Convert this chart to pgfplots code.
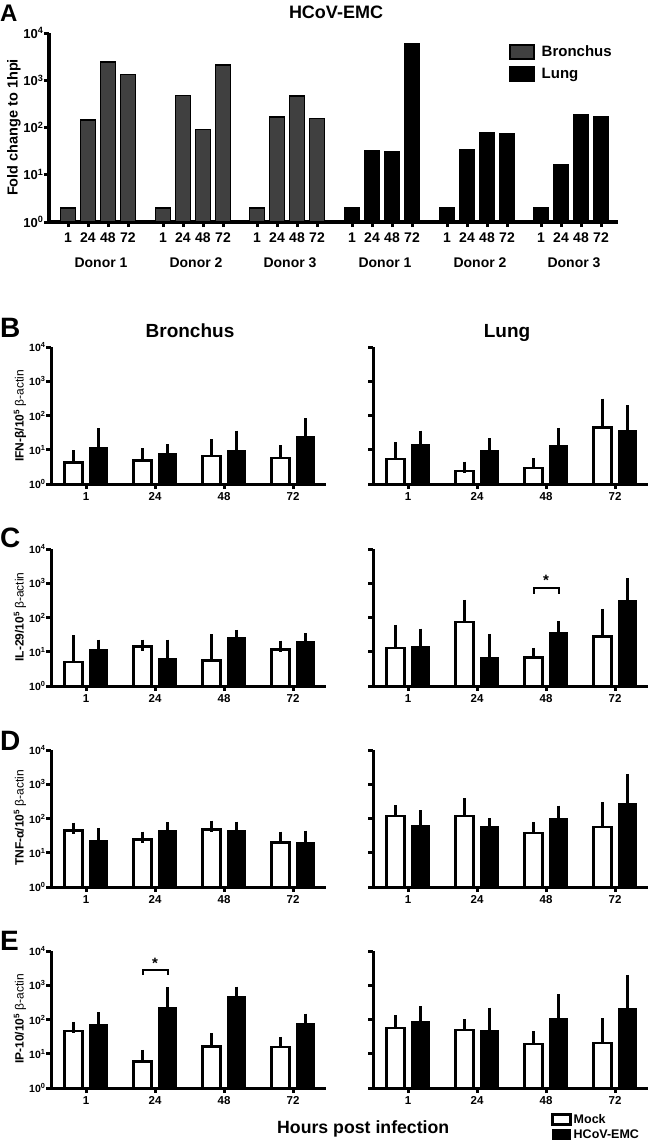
\documentclass[border=0pt]{standalone}
\usepackage{fontspec}
\setmainfont{Liberation Sans}
\usepackage{pgfplots}
\usepackage{pgfplotstable}
\pgfplotsset{compat=1.18}

\newcommand{\tenp}[1]{10\textsuperscript{#1}}
\newcommand{\bfs}[1]{\bfseries\fontsize{#1}{#1}\selectfont}

% panel A: fold change to 1 hpi, x = bar position
\pgfplotstableread{
x y
68 2
88 144
108 2440
128 1320
163 2
183 480
203 90
223 2080
257 2
277 166
297 460
317 155
}\tabAB
\pgfplotstableread{
x y
352 2
372 33
392 31
412 6000
447 2
467 34
487 76
507 72
541 2
561 16.4
581 190
601 166
}\tabAL

% panels B-E: m = mock, h = HCoV-EMC, e = upper SEM
\pgfplotstableread{
x m me h he
35 4.2 2.4 12 17
104 4.9 2.7 8 2
173 6.6 7.4 9.5 15.5
242 5.7 3.5 24 34
}\tabBb
\pgfplotstableread{
x m me h he
35 5.4 6.0 14 11
104 2.4 0.7 9.3 5.7
173 2.9 1.0 13.7 16.3
242 45 170 37 100
}\tabBl
\pgfplotstableread{
x m me h he
35 5.1 15.9 11.7 3.9
104 14.3 1.3 6.4 9.2
173 5.5 16.9 25.6 4.4
242 11.7 2.9 19.5 4.5
}\tabCb
\pgfplotstableread{
x m me h he
35 12.9 29 14 19
104 73 152 6.9 16
173 6.9 2.1 36 17
242 28 96 308 667
}\tabCl
\pgfplotstableread{
x m me h he
35 45 7 23 14
104 24 4.6 45 8
173 48 12 45 11
242 20 8.6 20 10.6
}\tabDb
\pgfplotstableread{
x m me h he
35 117 50 61 61
104 117 153 60 10
173 38 15 102 62
242 57 148 270 1120
}\tabDl
\pgfplotstableread{
x m me h he
35 46 13 70 44
104 6 2.9 220 390
173 16.4 10.6 457 178
242 15.7 5.7 77 25
}\tabEb
\pgfplotstableread{
x m me h he
35 57 36 86 81
104 49 22 47 106
173 19 12 107 266
242 20.5 54.5 209 1191
}\tabEl

% axis for panels B-E; #1 = bottom-left corner, #2 = extra options
\newcommand{\cytaxis}[2]{\begin{axis}[scale only axis, clip=false,
  axis x line*=bottom, axis y line*=left,
  axis line style={-, line width=3pt},
  tick align=outside, major tick length=5pt,
  tick style={line width=3pt, black},
  ymode=log, ymin=1, ymax=10000,
  ytick={1,10,100,1000,10000}, yminorticks=false,
  width=275pt, height=137pt, xmin=0, xmax=275,
  xtick={35,104,173,242}, xticklabels={1,24,48,72},
  xticklabel style={font=\bfs{11.5}},
  yticklabel style={font=\bfs{10.5}, xshift=3pt},
  ybar, bar width=18pt,
  at={#1}, anchor=south west, #2]}
% mock and HCoV-EMC bars of one table
\newcommand{\cytbars}[1]{%
  \addplot[fill=white, draw=black, line width=2.5pt, bar shift=-12.5pt,
    error bars/.cd, y dir=plus, y explicit,
    error bar style={line width=2.5pt, black},
    error mark options={line width=2.5pt, black, mark size=5.5pt}]
    table[x=x,y=m,y error=me]{#1};
  \addplot[fill=black, draw=black, line width=1pt, bar shift=12.5pt,
    error bars/.cd, y dir=plus, y explicit,
    error bar style={line width=2.5pt, black},
    error mark options={line width=2.5pt, black, mark size=5.5pt}]
    table[x=x,y=h,y error=he]{#1};}

\begin{document}
\begin{tikzpicture}
\useasboundingbox (0pt,0pt) rectangle (650pt,-1143pt);

% ---------------- A ----------------
\begin{axis}[scale only axis, clip=false,
  axis x line*=bottom, axis y line*=left,
  axis line style={-, line width=3.5pt},
  tick align=outside, major tick length=5pt,
  tick style={line width=3pt, black},
  ymode=log, ymin=1, ymax=10000,
  ytick={1,10,100,1000,10000}, yminorticks=false,
  at={(49pt,-222pt)}, anchor=south west,
  width=569pt, height=189pt, xmin=49, xmax=618,
  xtick={68,88,108,128,163,183,203,223,257,277,297,317,352,372,392,412,447,467,487,507,541,561,581,601},
  xticklabels={1,24,48,72,1,24,48,72,1,24,48,72,1,24,48,72,1,24,48,72,1,24,48,72},
  xticklabel style={font=\bfs{14}, yshift=-2pt},
  yticklabels={\tenp{0},\tenp{1},\tenp{2},\tenp{3},\tenp{4}},
  yticklabel style={font=\bfs{13}, xshift=3pt},
  ybar, bar width=15pt,
  area legend,
  legend image post style={xscale=1.41, yscale=2.45},
  legend style={at={(axis description cs:0.803,0.955)}, anchor=north west,
    draw=none, fill=none, font=\bfs{15}, row sep=6pt,
    /tikz/every odd column/.append style={column sep=5pt}},
  legend cell align=left,
]
\addplot[fill=black!75, draw=black, line width=1.5pt, bar shift=0pt]
  table[x=x,y=y]{\tabAB};
\addplot[fill=black, draw=black, line width=1.5pt, bar shift=0pt]
  table[x=x,y=y]{\tabAL};
\legend{Bronchus,Lung}
\end{axis}
\node[anchor=base west, inner sep=0pt, font=\bfs{24}] at (0pt,-21pt) {A};
\node[anchor=base, inner sep=0pt, font=\bfs{18}] at (336pt,-18.5pt) {HCoV-EMC};
\node[rotate=90, inner sep=0pt, font=\bfs{14.5}] at (14pt,-127.5pt) {Fold change to 1hpi};
\foreach \cx/\lab in {101/Donor 1,196/Donor 2,290/Donor 3,385/Donor 1,480/Donor 2,574/Donor 3}
  \node[anchor=base, inner sep=0pt, font=\bfs{14}] at (\cx pt,-267pt) {\lab};

% ---------------- B ----------------
\cytaxis{(51pt,-484pt)}{yticklabels={\tenp{0},\tenp{1},\tenp{2},\tenp{3},\tenp{4}}}
\cytbars{\tabBb}
\end{axis}
\cytaxis{(373pt,-484pt)}{yticklabels={\mbox{},\mbox{},\mbox{},\mbox{},\mbox{}}}
\cytbars{\tabBl}
\end{axis}
\node[anchor=base west, inner sep=0pt, font=\bfs{28}] at (0pt,-337pt) {B};
\node[anchor=base, inner sep=0pt, font=\bfs{19}] at (190pt,-337pt) {Bronchus};
\node[anchor=base, inner sep=0pt, font=\bfs{19}] at (507pt,-337pt) {Lung};
\node[rotate=90, inner sep=0pt, font=\bfs{12}] at (20pt,-416pt) {IFN-β/\tenp{5} {\mdseries β-actin}};

% ---------------- C ----------------
\cytaxis{(51pt,-686pt)}{yticklabels={\tenp{0},\tenp{1},\tenp{2},\tenp{3},\tenp{4}}}
\cytbars{\tabCb}
\end{axis}
\cytaxis{(373pt,-686pt)}{yticklabels={\mbox{},\mbox{},\mbox{},\mbox{},\mbox{}}}
\cytbars{\tabCl}
\draw[line width=2pt] ([yshift=-6pt]axis cs:160.5,740) -- (axis cs:160.5,740)
  -- (axis cs:185.5,740) -- ([yshift=-6pt]axis cs:185.5,740);
\node[anchor=base, inner sep=0pt, font=\bfs{15}] at ([yshift=2pt]axis cs:173,740) {*};
\end{axis}
\node[anchor=base west, inner sep=0pt, font=\bfs{28}] at (0pt,-547pt) {C};
\node[rotate=90, inner sep=0pt, font=\bfs{12}] at (20pt,-617pt) {IL-29/\tenp{5} {\mdseries β-actin}};

% ---------------- D ----------------
\cytaxis{(51pt,-887pt)}{yticklabels={\tenp{0},\tenp{1},\tenp{2},\tenp{3},\tenp{4}}}
\cytbars{\tabDb}
\end{axis}
\cytaxis{(373pt,-887pt)}{yticklabels={\mbox{},\mbox{},\mbox{},\mbox{},\mbox{}}}
\cytbars{\tabDl}
\end{axis}
\node[anchor=base west, inner sep=0pt, font=\bfs{28}] at (0pt,-750pt) {D};
\node[rotate=90, inner sep=0pt, font=\bfs{12}] at (20pt,-818pt) {TNF-α/\tenp{5} {\mdseries β-actin}};

% ---------------- E ----------------
\cytaxis{(51pt,-1088pt)}{yticklabels={\tenp{0},\tenp{1},\tenp{2},\tenp{3},\tenp{4}}}
\cytbars{\tabEb}
\draw[line width=2pt] ([yshift=-5pt]axis cs:91.5,2750) -- (axis cs:91.5,2750)
  -- (axis cs:116.5,2750) -- ([yshift=-5pt]axis cs:116.5,2750);
\node[anchor=base, inner sep=0pt, font=\bfs{15}] at ([yshift=2pt]axis cs:104,2750) {*};
\end{axis}
\cytaxis{(373pt,-1088pt)}{yticklabels={\mbox{},\mbox{},\mbox{},\mbox{},\mbox{}},
  area legend,
  legend image post style={xscale=1.06, yscale=1.75},
  legend style={at={(axis description cs:0.636,-0.16)}, anchor=north west,
    draw=none, fill=none, font=\bfs{12.5}, row sep=1pt},
  legend cell align=left}
\cytbars{\tabEl}
\legend{Mock,HCoV-EMC}
\end{axis}
\node[anchor=base west, inner sep=0pt, font=\bfs{28}] at (0pt,-950pt) {E};
\node[rotate=90, inner sep=0pt, font=\bfs{12}] at (20pt,-1019pt) {IP-10/\tenp{5} {\mdseries β-actin}};
\node[anchor=base west, inner sep=0pt, font=\bfs{17.7}] at (277pt,-1133pt) {Hours post infection};

\end{tikzpicture}
\end{document}
